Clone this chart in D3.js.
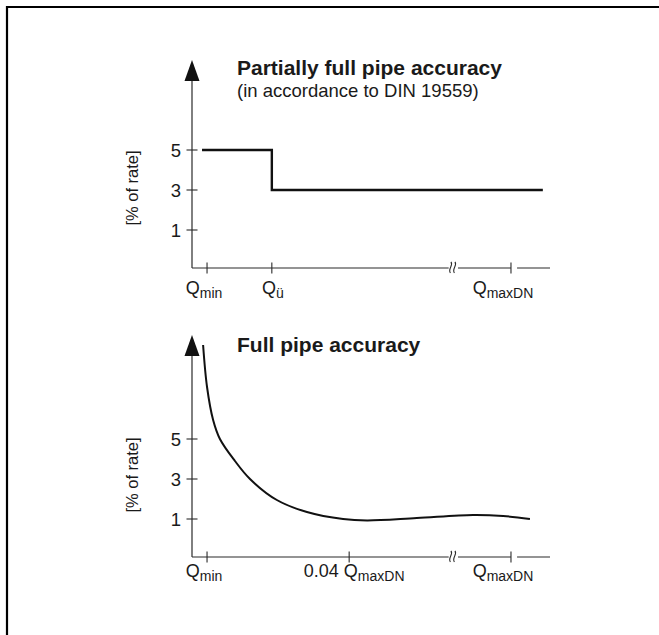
<!DOCTYPE html>
<html>
<head>
<meta charset="utf-8">
<script src="https://cdn.jsdelivr.net/npm/d3@7"></script>
<style>
body { margin: 0; background: #fff; }
text { font-family: "Liberation Sans", Arial, Helvetica, sans-serif; fill: #1a1a1a; }
</style>
</head>
<body>
<div class="viz"></div>
<script>
// values
var yTicks = [1, 3, 5];

var partialTicks = [4.2, 22.3, 89.1];
var partialLabels = [["Q", "min"], ["Q", "ü"], ["Q", "maxDN"]];
var partialX = [2.8, 22.3, 98];
var partialY = [5, 3, 3];

var fullTicks = [4.2, 43.9, 89.1];
var fullLabels = [["Q", "min"], ["0.04 Q", "maxDN"], ["Q", "maxDN"]];
var fullX = [3.1, 4.2, 5.9, 7.8, 12, 16.2, 23.7, 32.1, 42.2, 48.9, 62.8, 78.5, 86.9, 94.4];
var fullY = [9.7, 7.6, 5.95, 5.0, 3.9, 3.0, 1.95, 1.35, 1.0, 0.93, 1.05, 1.2, 1.15, 1.0];

var width = 659,
    height = 635;

var svg = d3.select(".viz").append("svg")
    .attr("width", width)
    .attr("height", height);

// cropped frame: only top and left edges show
svg.append("path")
    .attr("d", "M7,635V7H659")
    .attr("fill", "none")
    .attr("stroke", "#000")
    .attr("stroke-width", 2.2);

var x = d3.scaleLinear().domain([0, 100]).range([192, 550]);
var breakAt = 72.6, gapFrom = 89.1, gapTo = 90.8;

function panel(opt) {
    var y = d3.scaleLinear().domain([0, 10]).range([opt.zero, opt.zero - 200]);
    var g = svg.append("g");
    var axisY = opt.axisY;
    var ink = "#2a2a2a";

    // y axis with arrow
    g.append("line")
        .attr("x1", x(0)).attr("x2", x(0))
        .attr("y1", axisY).attr("y2", opt.tip + 10)
        .attr("stroke", ink).attr("stroke-width", 1.2);
    g.append("path")
        .attr("d", "M" + x(0) + "," + opt.tip + "L" + (x(0) + 7.5) + "," + (opt.tip + 21) +
            "L" + (x(0) - 7.5) + "," + (opt.tip + 21) + "Z")
        .attr("fill", "#111");

    // x axis, broken
    var segs = [[0, breakAt - 0.9], [breakAt + 1.7, gapFrom], [gapTo, 100]];
    segs.forEach(function (s) {
        g.append("line")
            .attr("x1", x(s[0])).attr("x2", x(s[1]))
            .attr("y1", axisY).attr("y2", axisY)
            .attr("stroke", ink).attr("stroke-width", 1.2);
    });
    [0, 4].forEach(function (d) {
        var bx = x(breakAt) - 2 + d;
        g.append("path")
            .attr("d", "M" + (bx + 1) + "," + (axisY - 6) +
                "C" + (bx + 4) + "," + (axisY - 3) + " " + (bx - 2.5) + "," + (axisY + 1) +
                " " + (bx + 0.5) + "," + (axisY + 5))
            .attr("fill", "none").attr("stroke", ink).attr("stroke-width", 1.1);
    });

    // y ticks
    yTicks.forEach(function (t) {
        g.append("line")
            .attr("x1", x(0) - 5.5).attr("x2", x(0) + 5.5)
            .attr("y1", y(t)).attr("y2", y(t))
            .attr("stroke", ink).attr("stroke-width", 1.1);
        g.append("text")
            .attr("x", 181).attr("y", y(t)).attr("dy", "0.36em")
            .attr("text-anchor", "end")
            .style("font-size", "18.5px")
            .text(t);
    });

    // x ticks
    opt.ticks.forEach(function (t, i) {
        g.append("line")
            .attr("x1", x(t)).attr("x2", x(t))
            .attr("y1", axisY - 5.5).attr("y2", axisY + 5.5)
            .attr("stroke", ink).attr("stroke-width", 1.1);
        var lab = opt.labels[i];
        var txt = g.append("text")
            .attr("x", x(t) + opt.labelShift[i]).attr("y", opt.labelBase)
            .attr("text-anchor", "middle")
            .style("font-size", "18px");
        txt.append("tspan").text(lab[0]);
        txt.append("tspan").attr("dy", 3.5).style("font-size", "14px").text(lab[1]);
    });

    // y label
    g.append("text")
        .attr("transform", "translate(" + opt.labelX + "," + opt.labelMid + ") rotate(-90)")
        .attr("text-anchor", "middle")
        .style("font-size", "16.5px")
        .text("[% of rate]");

    // titles
    g.append("text")
        .attr("x", 237).attr("y", opt.titleBase)
        .style("font-size", "21px").style("font-weight", "bold")
        .text(opt.title);
    if (opt.subtitle) {
        g.append("text")
            .attr("x", 237).attr("y", opt.titleBase + 22)
            .style("font-size", "18.5px")
            .text(opt.subtitle);
    }

    // the data line
    var pts = opt.xs.map(function (d, i) { return [d, opt.ys[i]]; });
    var line = d3.line()
        .x(function (d) { return x(d[0]); })
        .y(function (d) { return y(d[1]); })
        .curve(opt.curve);
    g.append("path")
        .attr("d", line(pts))
        .attr("fill", "none")
        .attr("stroke", "#111")
        .attr("stroke-width", opt.lineWidth);
}

panel({
    zero: 250, axisY: 268, tip: 60,
    ticks: partialTicks, labels: partialLabels, labelShift: [-3, 1, -8], labelBase: 294,
    labelX: 138, labelMid: 188,
    title: "Partially full pipe accuracy", subtitle: "(in accordance to DIN 19559)", titleBase: 75,
    xs: partialX, ys: partialY, curve: d3.curveStepAfter, lineWidth: 2.4
});

panel({
    zero: 539, axisY: 557, tip: 335,
    ticks: fullTicks, labels: fullLabels, labelShift: [-3, 5, -8], labelBase: 577,
    labelX: 138, labelMid: 475,
    title: "Full pipe accuracy", subtitle: null, titleBase: 352,
    xs: fullX, ys: fullY, curve: d3.curveCatmullRom, lineWidth: 2
});
</script>
</body>
</html>
